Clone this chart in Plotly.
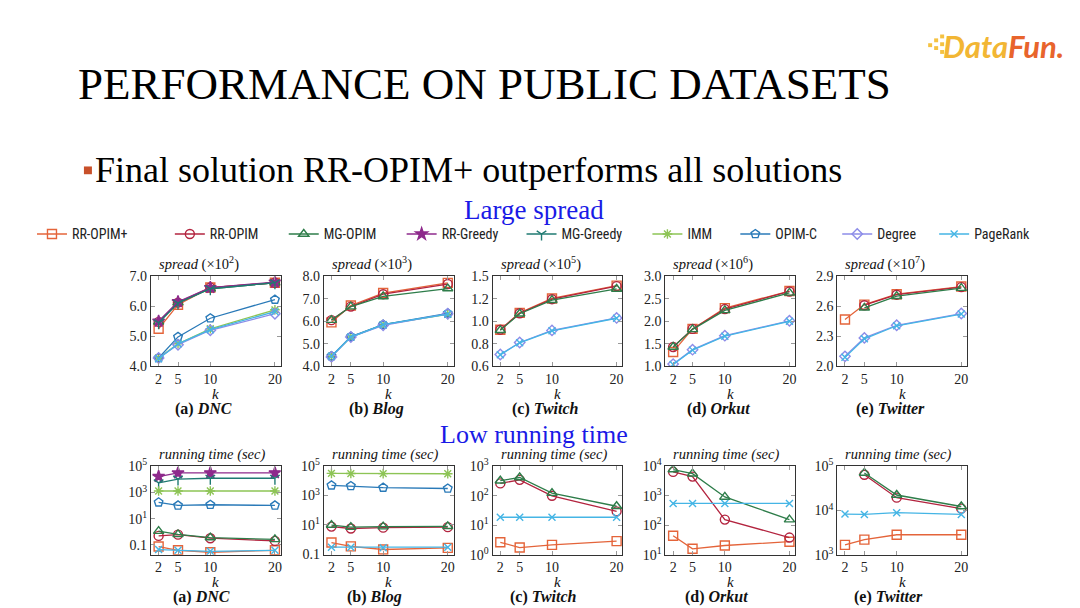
import plotly.graph_objects as go

W, H = 1080, 608
K = [2, 5, 10, 20]

METHODS = ["RR-OPIM+", "RR-OPIM", "MG-OPIM", "RR-Greedy", "MG-Greedy",
           "IMM", "OPIM-C", "Degree", "PageRank"]
COLORS = {"RR-OPIM+": "#E4643A", "RR-OPIM": "#B3243F", "MG-OPIM": "#2E7D4A",
          "RR-Greedy": "#8E2A8C", "MG-Greedy": "#1F7A72", "IMM": "#8DC455",
          "OPIM-C": "#2A7AB8", "Degree": "#8C8CE8", "PageRank": "#45B5E5"}
SYMBOLS = {"RR-OPIM+": "square-open", "RR-OPIM": "circle-open", "MG-OPIM": "triangle-up-open",
           "RR-Greedy": "star", "MG-Greedy": "y-down-open", "IMM": "asterisk-open",
           "OPIM-C": "pentagon-open", "Degree": "diamond-open", "PageRank": "x-thin-open"}
SIZES = {"RR-OPIM+": 9, "RR-OPIM": 9, "MG-OPIM": 9, "RR-Greedy": 9, "MG-Greedy": 8,
         "IMM": 8, "OPIM-C": 9, "Degree": 8, "PageRank": 7}

# ---- spread (top row) ----
spread_dnc = {
    "RR-OPIM+": [5.25, 6.05, 6.62, 6.78], "RR-OPIM": [5.48, 6.12, 6.62, 6.78],
    "MG-OPIM": [5.48, 6.12, 6.58, 6.78], "RR-Greedy": [5.50, 6.15, 6.62, 6.80],
    "MG-Greedy": [5.45, 6.10, 6.58, 6.78], "IMM": [4.28, 4.75, 5.25, 5.88],
    "OPIM-C": [4.28, 4.98, 5.60, 6.22], "Degree": [4.28, 4.72, 5.20, 5.75],
    "PageRank": [4.25, 4.75, 5.22, 5.82]}
spread_blog = {
    "RR-OPIM+": [5.95, 6.70, 7.25, 7.70], "RR-OPIM": [6.05, 6.65, 7.20, 7.65],
    "MG-OPIM": [6.05, 6.65, 7.10, 7.45], "IMM": [4.45, 5.30, 5.85, 6.30],
    "OPIM-C": [4.45, 5.32, 5.85, 6.35], "Degree": [4.42, 5.30, 5.82, 6.33],
    "PageRank": [4.45, 5.30, 5.85, 6.32]}
spread_twitch = {
    "RR-OPIM+": [0.966, 1.134, 1.277, 1.405], "RR-OPIM": [0.966, 1.130, 1.270, 1.400],
    "MG-OPIM": [0.960, 1.125, 1.260, 1.372], "Degree": [0.718, 0.838, 0.959, 1.083],
    "PageRank": [0.715, 0.835, 0.955, 1.080]}
spread_orkut = {
    "RR-OPIM+": [1.32, 1.83, 2.29, 2.67], "RR-OPIM": [1.43, 1.83, 2.27, 2.66],
    "MG-OPIM": [1.43, 1.82, 2.24, 2.63], "Degree": [1.05, 1.37, 1.68, 2.01],
    "PageRank": [1.04, 1.36, 1.67, 2.00]}
spread_twitter = {
    "RR-OPIM+": [2.467, 2.616, 2.720, 2.796], "RR-OPIM": [None, 2.610, 2.715, 2.790],
    "MG-OPIM": [None, 2.584, 2.700, 2.780], "Degree": [2.100, 2.284, 2.410, 2.527],
    "PageRank": [2.090, 2.275, 2.405, 2.522]}

# ---- running time (bottom row, seconds) ----
time_dnc = {
    "RR-OPIM+": [0.074, 0.038, 0.027, 0.038], "RR-OPIM": [0.48, 0.60, 0.32, 0.20],
    "MG-OPIM": [1.12, 0.63, 0.36, 0.26], "RR-Greedy": [16600, 31000, 32000, 32000],
    "MG-Greedy": [5400, 10500, 12300, 12300], "IMM": [1300, 1300, 1300, 1300],
    "OPIM-C": [178, 102, 115, 102], "PageRank": [0.043, 0.038, 0.032, 0.038]}
time_blog = {
    "RR-OPIM+": [0.60, 0.33, 0.20, 0.26], "RR-OPIM": [7.4, 5.5, 6.3, 6.8],
    "MG-OPIM": [9.5, 6.8, 7.4, 7.8], "IMM": [33000, 32000, 31500, 31000],
    "OPIM-C": [5000, 4470, 3470, 3020], "PageRank": [0.29, 0.29, 0.26, 0.29]}
time_twitch = {
    "RR-OPIM+": [2.63, 1.74, 2.14, 2.88], "RR-OPIM": [263, 347, 100, 29.5],
    "MG-OPIM": [324, 417, 123, 44], "PageRank": [18.6, 18.6, 18.6, 18.6]}
time_orkut = {
    "RR-OPIM+": [43.6, 15.8, 20.4, 27.5], "RR-OPIM": [6460, 4470, 155, 38],
    "MG-OPIM": [7760, 5620, 912, 155], "PageRank": [550, 550, 550, 550]}
time_twitter = {
    "RR-OPIM+": [1660, 2190, 2820, 2820], "RR-OPIM": [None, 64600, 19500, 11000],
    "MG-OPIM": [None, 70800, 22400, 12300], "PageRank": [8300, 8130, 8900, 8130]}

DATASETS = ["DNC", "Blog", "Twitch", "Orkut", "Twitter"]
LETTERS = ["a", "b", "c", "d", "e"]

spread_panels = [
    (spread_dnc, [4.0, 7.0], [4, 5, 6, 7], ["4.0", "5.0", "6.0", "7.0"], 2),
    (spread_blog, [4.0, 8.0], [4, 5, 6, 7, 8], ["4.0", "5.0", "6.0", "7.0", "8.0"], 3),
    (spread_twitch, [0.6, 1.5], [0.6, 0.825, 1.05, 1.275, 1.5], ["0.6", "0.8", "1.0", "1.2", "1.5"], 5),
    (spread_orkut, [1.0, 3.0], [1.0, 1.5, 2.0, 2.5, 3.0], ["1.0", "1.5", "2.0", "2.5", "3.0"], 6),
    (spread_twitter, [2.0, 2.9], [2.0, 2.3, 2.6, 2.9], ["2.0", "2.3", "2.6", "2.9"], 7),
]
def sup(e):
    return "10<sup>%d</sup>" % e
time_panels = [
    (time_dnc, [-1.75, 5.0], [0.1, 10, 1e3, 1e5], ["0.1", sup(1), sup(3), sup(5)]),
    (time_blog, [-1.05, 5.0], [0.1, 10, 1e3, 1e5], ["0.1", sup(1), sup(3), sup(5)]),
    (time_twitch, [0, 3], [1, 10, 100, 1000], [sup(0), sup(1), sup(2), sup(3)]),
    (time_orkut, [1, 4], [10, 100, 1000, 1e4], [sup(1), sup(2), sup(3), sup(4)]),
    (time_twitter, [3, 5], [1e3, 1e4, 1e5], [sup(3), sup(4), sup(5)]),
]

BOX_LEFT = [143, 316, 485, 658, 830]
BOX_W = 130
TOP_ROW = (266, 359)
BOT_ROW = (462, 553)
LEGEND_TEXT_X = [72, 210, 324, 442, 562, 688, 776, 878, 975]
LEGEND_Y = 223

SERIF = "Liberation Serif"
fig = go.Figure()
layout = {}
annotations = []

def px(x):
    return x / W
def py(y):
    return 1 - y / H

def ann(x, y, text, size, xanchor="center", color="#111", family=SERIF):
    annotations.append(dict(x=px(x), y=py(y), xref="paper", yref="paper", xanchor=xanchor,
                            yanchor="middle", text=text, showarrow=False,
                            font=dict(family=family, size=size, color=color)))

legend_shown = set()
def legend_ref(m):
    j = METHODS.index(m)
    return "legend" if j == 0 else "legend%d" % (j + 1)

def add_panel(idx, data, row, yrange, tv, tt, log):
    col = (idx - 1) % 5
    xa = "x" if idx == 1 else "x%d" % idx
    ya = "y" if idx == 1 else "y%d" % idx
    top, bot = row
    x0 = BOX_LEFT[col]
    axis_common = dict(showline=True, linecolor="#333333", linewidth=1, mirror="ticks",
                       ticks="inside", ticklen=4, tickcolor="#999999", showgrid=False,
                       zeroline=False, tickfont=dict(family=SERIF, size=14, color="#222"))
    layout["xaxis" if idx == 1 else "xaxis%d" % idx] = dict(
        domain=[px(x0), px(x0 + BOX_W)], anchor=ya, range=[0.8, 20.9],
        tickvals=K, ticktext=[str(k) for k in K], **axis_common)
    yd = dict(domain=[py(bot), py(top)], anchor=xa, range=yrange,
              tickvals=tv, ticktext=tt, **axis_common)
    if log:
        yd["type"] = "log"
    layout["yaxis" if idx == 1 else "yaxis%d" % idx] = yd
    for m in METHODS:
        if m not in data:
            continue
        show = m not in legend_shown
        legend_shown.add(m)
        fig.add_trace(go.Scatter(
            x=K, y=data[m], mode="lines+markers", name=m, xaxis=xa, yaxis=ya,
            showlegend=show, legend=legend_ref(m), legendgroup=m,
            line=dict(color=COLORS[m], width=1.3),
            marker=dict(symbol=SYMBOLS[m], size=SIZES[m], color=COLORS[m],
                        line=dict(color=COLORS[m], width=1.4)),
            connectgaps=False))

for c, (data, yr, tv, tt, e) in enumerate(spread_panels):
    add_panel(c + 1, data, TOP_ROW, yr, tv, tt, False)
    ann(BOX_LEFT[c] + 6, TOP_ROW[0] - 13, "<i>spread</i> (×10<sup>%d</sup>)" % e, 14.5, "left")
    ann(BOX_LEFT[c] + BOX_W / 2, TOP_ROW[1] + 28, "<i>k</i>", 15)
    ann(BOX_LEFT[c] + 53, TOP_ROW[1] + 44, "<b>(%s) <i>%s</i></b>" % (LETTERS[c], DATASETS[c]), 16)

for c, (data, yr, tv, tt) in enumerate(time_panels):
    add_panel(c + 6, data, BOT_ROW, yr, tv, tt, True)
    ann(BOX_LEFT[c] + 6, BOT_ROW[0] - 12, "<i>running time (sec)</i>", 14.5, "left")
    ann(BOX_LEFT[c] + BOX_W / 2, BOT_ROW[1] + 28, "<i>k</i>", 15)
    ann(BOX_LEFT[c] + 51, BOT_ROW[1] + 44, "<b>(%s) <i>%s</i></b>" % (LETTERS[c], DATASETS[c]), 16)

# legends (one per method, positioned individually)
for j, m in enumerate(METHODS):
    key = "legend" if j == 0 else "legend%d" % (j + 1)
    layout[key] = dict(x=px(LEGEND_TEXT_X[j] - 48), y=py(LEGEND_Y), xanchor="left", yanchor="middle",
                       orientation="h", bgcolor="rgba(0,0,0,0)", borderwidth=0,
                       font=dict(family="Liberation Sans Narrow, Roboto Condensed, Roboto", size=14, color="#222"),
                       itemwidth=30)

# slide texts
ann(68, 68, "PERFORMANCE ON PUBLIC DATASETS", 45, "left", "#000")
ann(85, 157, "Final solution RR-OPIM+ outperforms all solutions", 36, "left", "#000")
ann(526, 198, "Large spread", 27, "center", "#1A1AE6")
ann(526, 429, "Low running time", 26, "center", "#1A1AE6")
annotations.append(dict(x=px(1059), y=py(29), xref="paper", yref="paper", xanchor="right",
                        yanchor="middle", showarrow=False,
                        text='<b><i><span style="color:#F2B634">Data</span><span style="color:#E8642C">Fun.</span></i></b>',
                        font=dict(family="Lato", size=31)))

shapes = [dict(type="rect", xref="paper", yref="paper", x0=px(76), x1=px(84), y0=py(161), y1=py(153),
               fillcolor="#C8502A", line=dict(width=0))]
# logo pixel decoration
for (lx, ly, s) in [(921, 26, 4), (927, 21, 4), (927, 29, 4), (933, 17, 4), (933, 25, 4), (933, 33, 4)]:
    shapes.append(dict(type="rect", xref="paper", yref="paper", x0=px(lx), x1=px(lx + s),
                       y0=py(ly + s), y1=py(ly), fillcolor="#F5C242", line=dict(width=0)))

fig.update_layout(width=W, height=H, margin=dict(l=0, r=0, t=0, b=0),
                  paper_bgcolor="white", plot_bgcolor="white",
                  annotations=annotations, shapes=shapes, **layout)
fig.write_html("out.html")
